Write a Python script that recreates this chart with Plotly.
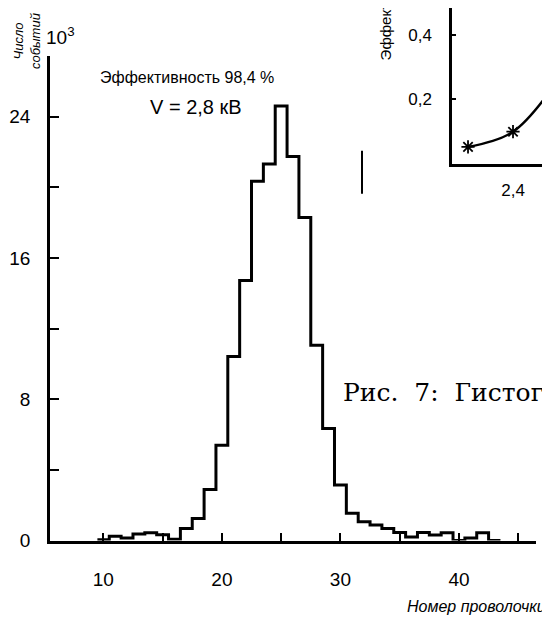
import plotly.graph_objects as go

# ---- main histogram data (events per wire, in units of 10^3) ----
wires = list(range(10, 44))
counts = [0.05, 0.24, 0.14, 0.37, 0.44, 0.33, 0.08, 0.69, 1.25, 2.89,
          5.40, 10.42, 14.72, 20.33, 21.31, 24.59, 21.74, 18.28, 11.05, 6.34,
          3.14, 1.54, 1.06, 0.88, 0.69, 0.45, 0.20, 0.46, 0.31, 0.44,
          0.00, 0.14, 0.44, 0.00]

x_ticks = [10, 15, 20, 25, 30, 35, 40, 45]
x_ticktext = ["10", "", "20", "", "30", "", "40", ""]
y_ticks = [0, 4, 8, 12, 16, 20, 24]
y_ticktext = ["0", "", "8", "", "16", "", "24"]

# ---- inset: efficiency vs voltage (kV) ----
volts = [2.3, 2.4, 2.5]
eff = [0.053, 0.10, 0.26]
inset_yticks = [0.2, 0.4]
inset_yticktext = ["0,2", "0,4"]
inset_xticks = [2.4]
inset_xticktext = ["2,4"]

W, H = 550, 621
FONT = "Liberation Sans"

# empirical mapping from target screen pixels to paper fractions
OX, OY, SY = 8.0, 7.0, 0.984


def px(xs):
    return (xs - OX) / W


def py(ys):
    return 1 - ((ys - OY) / SY) / H


edges = [w - 0.5 for w in wires] + [wires[-1] + 0.5]
steps = counts + [counts[-1]]

fig = go.Figure()
fig.add_trace(go.Scatter(x=edges, y=steps, mode="lines", line_shape="hv",
                         line=dict(color="black", width=3),
                         xaxis="x", yaxis="y", showlegend=False))
fig.add_trace(go.Scatter(x=volts, y=eff, mode="lines+markers", line_shape="spline",
                         line=dict(color="black", width=2.5),
                         marker=dict(symbol="asterisk-open", size=11,
                                     line=dict(color="black", width=1.8)),
                         xaxis="x2", yaxis="y2", showlegend=False))

base = dict(showgrid=False, zeroline=False, showline=True,
            linecolor="black", linewidth=2.5, ticks="inside",
            tickcolor="black", tickwidth=2)

NB = "\u00a0"

fig.update_layout(
    width=W, height=H,
    margin=dict(l=0, r=0, t=0, b=0),
    paper_bgcolor="white", plot_bgcolor="white",
    xaxis=dict(domain=[px(50), px(536)], range=[5.5, 46.5],
               tickmode="array", tickvals=x_ticks, ticktext=x_ticktext,
               ticklen=8, ticklabelstandoff=20, anchor="y",
               tickfont=dict(family=FONT, size=19, color="black"), **base),
    yaxis=dict(domain=[py(540.5), py(55)], range=[0, 27.43],
               tickmode="array", tickvals=y_ticks, ticktext=y_ticktext,
               ticklen=9, ticklabelstandoff=13, anchor="x",
               tickfont=dict(family=FONT, size=19, color="black"), **base),
    xaxis2=dict(domain=[px(452), 1.0], range=[2.2644, 2.5],
                tickmode="array", tickvals=inset_xticks, ticktext=inset_xticktext,
                ticklen=0, ticklabelstandoff=9, anchor="y2",
                tickfont=dict(family=FONT, size=17, color="black"), **base),
    yaxis2=dict(domain=[py(163.3), 1.0], range=[0, 0.483],
                tickmode="array", tickvals=inset_yticks, ticktext=inset_yticktext,
                ticklen=4, ticklabelstandoff=14, anchor="x2",
                tickfont=dict(family=FONT, size=17, color="black"), **base),
    shapes=[dict(type="line", xref="paper", yref="paper",
                 x0=px(362), x1=px(362), y0=py(150), y1=py(193),
                 line=dict(color="black", width=2))],
    annotations=[
        dict(text="10<sup>3</sup>", x=px(44), y=py(35), xref="paper", yref="paper",
             xanchor="left", yanchor="middle", showarrow=False,
             font=dict(family=FONT, size=19, color="black")),
        dict(text="<i>Число<br>событий</i>", x=px(27), y=py(10), xref="paper", yref="paper",
             xanchor="center", yanchor="top", textangle=-90, showarrow=False,
             font=dict(family=FONT, size=13, color="black")),
        dict(text="Эффективность 98,4 %", x=px(187), y=py(77), xref="paper", yref="paper",
             xanchor="center", yanchor="middle", showarrow=False,
             font=dict(family=FONT, size=16, color="black")),
        dict(text="V = 2,8 кВ", x=px(196), y=py(106), xref="paper", yref="paper",
             xanchor="center", yanchor="middle", showarrow=False,
             font=dict(family=FONT, size=20, color="black")),
        dict(text="<i>Номер проволочки</i>", x=px(548), y=py(607), xref="paper", yref="paper",
             xanchor="right", yanchor="middle", showarrow=False,
             font=dict(family=FONT, size=16, color="black")),
        dict(text="Рис." + NB + " 7:" + NB + " Гистограмма", x=px(341), y=py(392),
             xref="paper", yref="paper",
             xanchor="left", yanchor="middle", showarrow=False,
             font=dict(family="DejaVu Serif", size=25, color="black")),
        dict(text="Эффективность", x=px(385), y=py(62), xref="paper", yref="paper",
             xanchor="center", yanchor="bottom", textangle=-90, showarrow=False,
             font=dict(family=FONT, size=15, color="black")),
    ],
)

fig.write_html("out.html")
